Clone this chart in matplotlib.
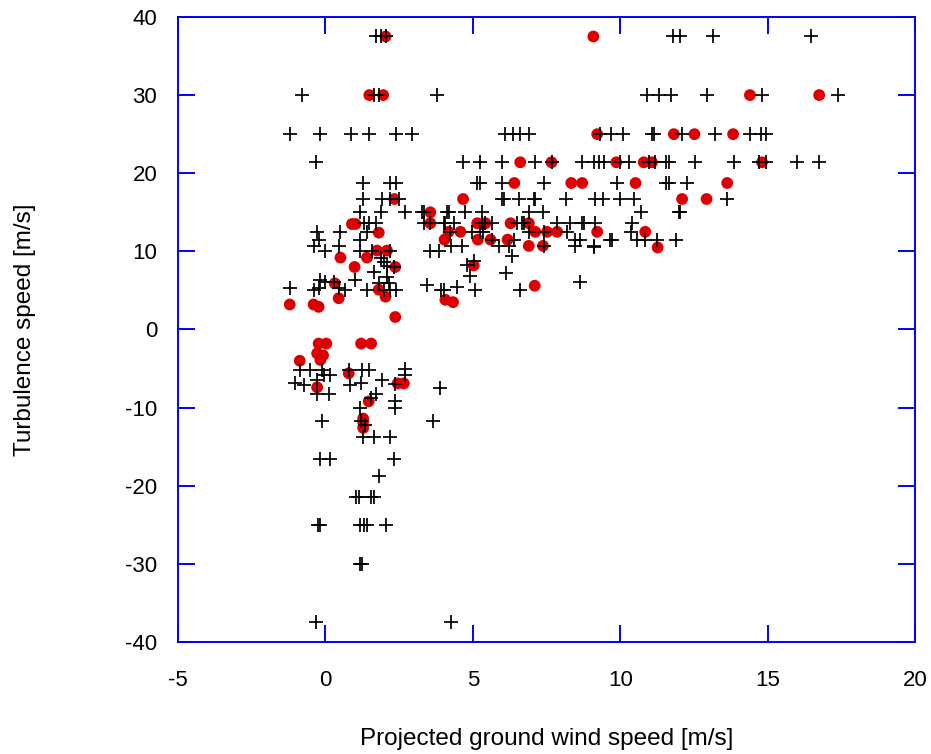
import numpy as np
import matplotlib
matplotlib.use("Agg")
import matplotlib.pyplot as plt

# black crosses, grouped by turbulence speed rows
plus_x = [
    1.73, 1.87, 2.07, 11.8, 12.04, 13.15, 16.48,
    -0.79, 1.64, 1.81, 3.79, 10.91, 11.33, 11.73, 12.95, 14.81, 17.38,
    -1.21, -0.17, 0.88, 1.49, 2.4, 2.94, 6.1, 6.37, 6.61, 6.9, 9.31, 9.69, 10.1,
    11.08, 11.15, 12.1, 13.23, 14.4, 14.76, 14.93,
    -0.31, 4.67, 5.26, 5.99, 7.12, 7.67, 8.71, 9.1, 9.27, 9.44, 10.0, 10.3, 10.97,
    11.19, 11.57, 11.65, 12.53, 13.85, 14.7, 14.93, 16.0, 16.76,
    1.28, 2.2, 2.41, 5.15, 5.23, 5.99, 7.4, 9.9, 11.57, 11.65, 12.27,
    1.28, 1.92, 2.2, 2.49, 5.99, 6.05, 6.56, 7.07, 7.12, 8.16, 9.16, 9.42, 10.0,
    10.46, 13.63,
    1.19, 1.9, 2.71, 3.28, 3.34, 4.13, 4.18, 4.75, 5.31, 6.9, 7.38, 10.72, 12.0, 12.04,
    1.3, 1.47, 1.7, 3.33, 3.56, 4.01, 4.07, 4.35, 5.31, 5.43, 5.65, 6.5, 6.67, 6.73,
    7.86, 8.31, 8.71, 8.76, 9.16, 10.4,
    -0.28, 0.51, 1.41, 4.24, 4.98, 5.23, 5.35, 6.9, 7.43, 8.2, 10.35,
    -0.23, 1.19, 5.65, 6.39, 8.48, 8.65, 9.67, 9.72, 10.57, 10.85, 11.25, 11.9,
    -0.4, 0.45, 4.26, 4.64, 5.88, 6.22, 7.4, 8.48, 9.1,
    0.0, 1.19, 1.58, 2.2, 3.56, 3.84,
    1.87, 1.98, 2.09, 2.32, 1.64, 2.09, -0.17, 1.02, 0.0, 0.28, 1.81, 2.15, 3.45,
    -1.19, -0.4, -0.23, 0.45, 0.68, 1.41, 1.98, 2.18, 2.41, 3.92, 4.01,
    6.33, 5.03, 4.8, 4.9, 6.14, 4.47, 5.09, 6.61, 8.65, 9.1,
    -0.87, -0.53, -0.11, -0.06, 0.17, 0.79, 1.24, 1.47, 2.71, 2.71,
    -1.02, -0.74, -0.28, 0.85, 1.21, 1.92, 2.37, 3.9,
    -0.28, 0.11, 1.7, 1.53, 2.37, 2.37, 1.19,
    -0.11, 1.21, 1.36, 3.64, 1.28, 1.64, 2.18,
    -0.19, 0.17, 2.32, 1.81, 1.05, 1.13, 1.53, 1.66,
    -0.26, -0.19, 1.19, 1.3, 1.41, 2.04, 1.19, 1.24, -0.31, 4.27,
]
plus_y = [
    37.5, 37.5, 37.5, 37.5, 37.5, 37.5, 37.5,
    30, 30, 30, 30, 30, 30, 30, 30, 30, 30,
    25, 25, 25, 25, 25, 25, 25, 25, 25, 25, 25, 25, 25,
    25, 25, 25, 25, 25, 25, 25,
    21.4, 21.4, 21.4, 21.4, 21.4, 21.4, 21.4, 21.4, 21.4, 21.4, 21.4, 21.4, 21.4,
    21.4, 21.4, 21.4, 21.4, 21.4, 21.4, 21.4, 21.4, 21.4,
    18.75, 18.75, 18.75, 18.75, 18.75, 18.75, 18.75, 18.75, 18.75, 18.75, 18.75,
    16.7, 16.7, 16.7, 16.7, 16.7, 16.7, 16.7, 16.7, 16.7, 16.7, 16.7, 16.7, 16.7,
    16.7, 16.7,
    15, 15, 15, 15, 15, 15, 15, 15, 15, 15, 15, 15, 15, 15,
    13.6, 13.6, 13.6, 13.6, 13.6, 13.6, 13.6, 13.6, 13.6, 13.6, 13.6, 13.6, 13.6, 13.6,
    13.6, 13.6, 13.6, 13.6, 13.6, 13.6,
    12.5, 12.5, 12.5, 12.5, 12.5, 12.5, 12.5, 12.5, 12.5, 12.5, 12.5,
    11.5, 11.5, 11.5, 11.5, 11.5, 11.5, 11.5, 11.5, 11.5, 11.5, 11.5, 11.5,
    10.7, 10.7, 10.7, 10.7, 10.7, 10.7, 10.7, 10.7, 10.7,
    10.1, 10.1, 10.1, 10.1, 10.0, 10.0,
    9.2, 8.7, 8.1, 8.0, 7.4, 6.7, 6.3, 6.3, 6.1, 6.1, 5.9, 5.9, 5.7,
    5.3, 5.1, 5.3, 5.3, 5.1, 5.1, 5.1, 5.1, 5.1, 5.1, 5.1,
    9.4, 8.8, 8.2, 6.8, 7.2, 5.5, 5.1, 5.1, 6.1, 10.5,
    -5.2, -5.2, -5.2, -5.8, -5.8, -5.2, -5.2, -5.2, -5.0, -5.8,
    -6.9, -7.1, -6.5, -7.1, -6.9, -6.5, -7.0, -7.5,
    -8.2, -8.2, -8.2, -8.8, -9.2, -10.1, -10.1,
    -11.7, -11.7, -12.2, -11.7, -13.7, -13.7, -13.7,
    -16.6, -16.6, -16.6, -18.75, -21.4, -21.4, -21.4, -21.4,
    -25, -25, -25, -25, -25, -25, -30, -30, -37.5, -37.5,
]

# red dots
dot_x = [
    2.04, 9.09, 1.49, 1.96, 14.4, 16.75,
    9.22, 11.82, 12.52, 13.83,
    6.61, 7.67, 9.87, 10.8, 11.08, 14.81,
    6.41, 8.34, 8.71, 10.52, 13.63,
    2.34, 4.67, 12.1, 12.93,
    3.56, 0.9, 1.02, 3.56, 5.15, 5.43, 6.28, 6.9,
    1.81, 4.18, 4.58, 7.12, 7.52, 7.86, 9.22, 10.85,
    4.04, 5.17, 5.6, 6.18, 11.27, 6.9, 7.38,
    1.75, 2.09, 0.51, 1.41, 0.99, 2.37, 5.03, 0.32, 1.81, 7.1,
    2.04, 0.45, 4.07, 4.33, -1.21, -0.4, -0.23, 2.37,
    -0.23, 0.03, 1.21, 1.55, -0.28, -0.08, -0.17, -0.87,
    0.79, -0.28, 2.45, 2.66, 1.47, 1.28, 1.28, 1.28,
]
dot_y = [
    37.5, 37.5, 30, 30, 30, 30,
    25, 25, 25, 25,
    21.4, 21.4, 21.4, 21.4, 21.4, 21.4,
    18.75, 18.75, 18.75, 18.75, 18.75,
    16.7, 16.7, 16.7, 16.7,
    15, 13.5, 13.5, 13.6, 13.6, 13.6, 13.6, 13.6,
    12.4, 12.5, 12.5, 12.5, 12.5, 12.5, 12.5, 12.5,
    11.5, 11.5, 11.5, 11.5, 10.5, 10.7, 10.7,
    10.1, 10.1, 9.2, 9.2, 8.0, 8.0, 8.2, 5.9, 5.1, 5.6,
    4.2, 4.0, 3.8, 3.5, 3.2, 3.2, 2.9, 1.6,
    -1.8, -1.8, -1.8, -1.8, -3.05, -3.3, -3.9, -4.0,
    -5.6, -7.4, -6.9, -6.9, -9.2, -11.4, -11.8, -12.6,
]

plt.rcParams["font.family"] = ["Liberation Sans", "DejaVu Sans"]
plt.rcParams["axes.unicode_minus"] = False

fig = plt.figure(figsize=(9.31, 7.54), dpi=100)
ax = fig.add_axes([0.1912, 0.1485, 0.7916, 0.829])

ax.scatter(dot_x, dot_y, s=72, color="#dd0000", edgecolors="none", zorder=2)
ax.scatter(plus_x, plus_y, s=95, marker="+", color="black", linewidths=1.25, zorder=3)

ax.set_xlim(-5, 20)
ax.set_ylim(-40, 40)
ax.set_xticks(np.arange(-5, 21, 5))
ax.set_yticks(np.arange(-40, 41, 10))

for s in ax.spines.values():
    s.set_color("#0000ff")
    s.set_linewidth(1.4)
ax.tick_params(direction="in", length=12, width=1.4, color="#0000ff",
               top=True, right=True, labelsize=16)
ax.tick_params(axis="x", pad=20)
ax.tick_params(axis="y", pad=15)

ax.set_xlabel("Projected ground wind speed [m/s]", fontsize=17.5, labelpad=27)
ax.set_ylabel("Turbulence speed [m/s]", fontsize=17.5, labelpad=64)

fig.savefig("out.png", dpi=100)
